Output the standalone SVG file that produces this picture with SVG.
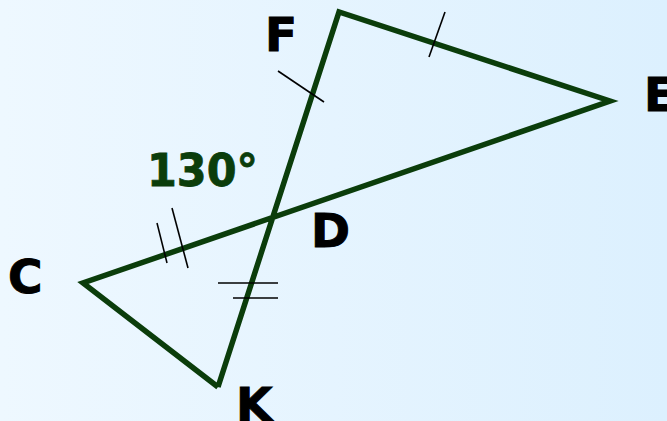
<svg xmlns="http://www.w3.org/2000/svg" width="667" height="421" viewBox="0 0 667 421">
<defs>
<linearGradient id="bg" x1="0" y1="0" x2="1" y2="0">
<stop offset="0" stop-color="#eef8ff"/>
<stop offset="1" stop-color="#dcf0fe"/>
</linearGradient>
</defs>
<style>
.side{stroke:#0b3d0b;stroke-width:5.5;fill:none;stroke-linejoin:miter;stroke-linecap:butt}
.tick{stroke:#000;stroke-width:1.6;fill:none}
.lbl{font-family:"DejaVu Sans",Verdana,sans-serif;font-weight:bold;font-size:47px;fill:#000;stroke:#000;stroke-width:1}
.ang{font-family:"DejaVu Sans",Verdana,sans-serif;font-weight:bold;font-size:45px;fill:#0b3d0b;stroke:#0b3d0b;stroke-width:0.8}
</style>
<rect width="667" height="421" fill="url(#bg)"/>
<g id="connectors">
<polyline class="side" points="218,387 339,12 610,101 83,283 218,387"/>
<line class="tick" x1="445" y1="12" x2="429" y2="57"/>
<line class="tick" x1="278" y1="71" x2="324" y2="102"/>
<line class="tick" x1="157" y1="223" x2="167" y2="263"/>
<line class="tick" x1="172" y1="208" x2="188" y2="268"/>
<line class="tick" x1="218" y1="283" x2="278" y2="283"/>
<line class="tick" x1="233" y1="298" x2="278" y2="298"/>
</g>
<g id="F"><text class="lbl" x="265" y="51">F</text></g>
<g id="E"><text class="lbl" x="644" y="111">E</text></g>
<g id="D"><text class="lbl" x="311" y="247">D</text></g>
<g id="C"><text class="lbl" x="8" y="293">C</text></g>
<g id="K"><text class="lbl" x="236" y="421">K</text></g>
<g id="angle"><text class="ang" x="147" y="186" textLength="111" lengthAdjust="spacingAndGlyphs">130°</text></g>
</svg>
